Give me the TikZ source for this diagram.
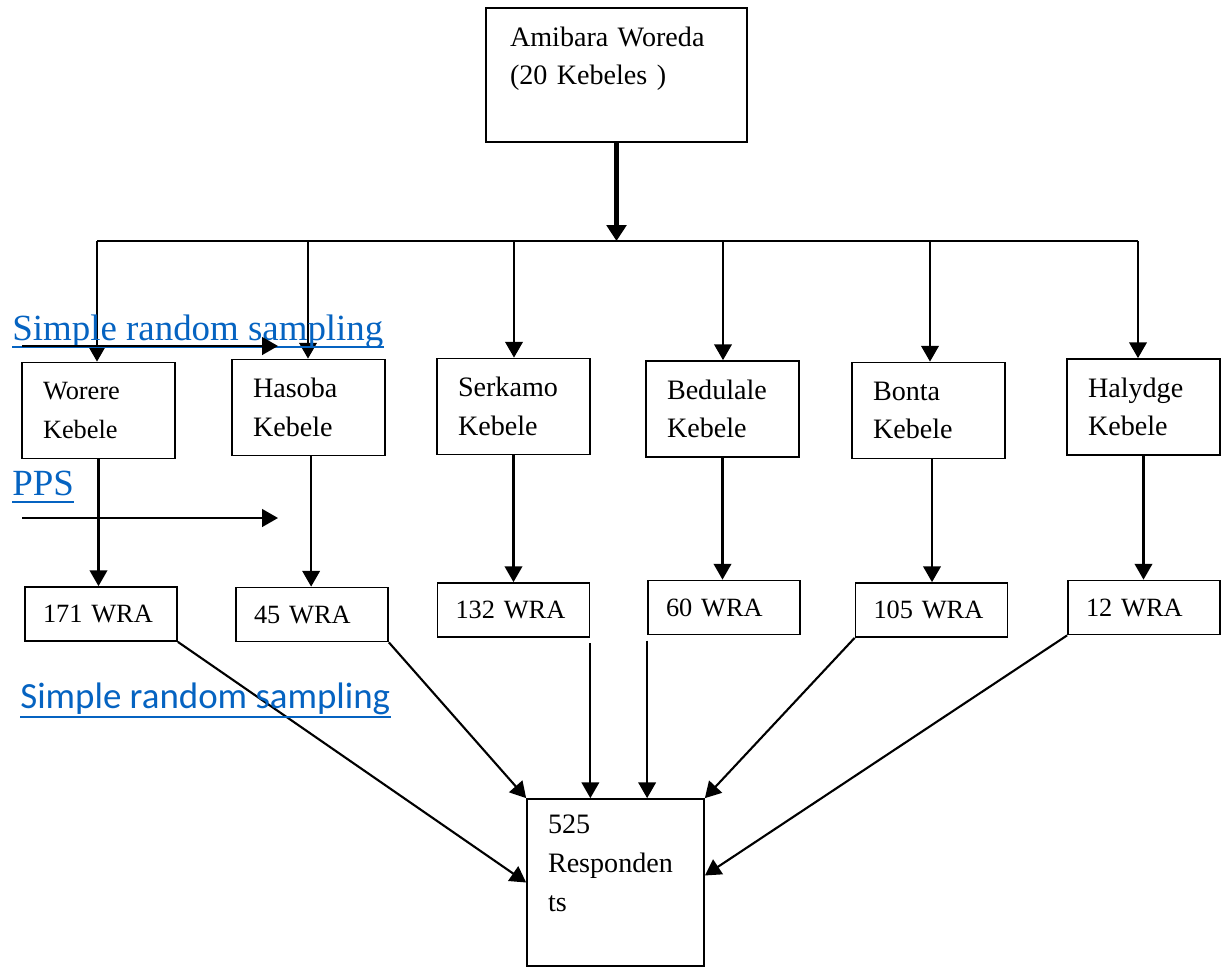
\documentclass[tikz,border=0pt]{standalone}
\usepackage{fontspec}
\setmainfont{Liberation Serif}
\newfontfamily\calibrifont{Carlito}
\usepackage{xcolor}
\usetikzlibrary{arrows.meta}
\definecolor{link-blue}{HTML}{0563C1}
\tikzset{
    plain-box/.style = {draw, line width=1pt, rectangle, align=left, font=\fontsize{16}{22}\selectfont},
    top-box/.style = {plain-box, text width=4.26cm, inner xsep=0.48cm, minimum height=2.68cm},
    kebele-box/.style = {plain-box, text width=2.22cm, inner xsep=0.42cm, minimum height=1.92cm},
    wra-box/.style = {plain-box, text width=2.32cm, inner xsep=0.36cm, minimum height=1.08cm, font=\fontsize{15}{20}\selectfont},
    resp-box/.style = {plain-box, text width=2.7cm, inner xsep=0.42cm, minimum height=3.34cm},
    link-text/.style = {text=link-blue, inner sep=0pt, anchor=base west, font=\fontsize{21}{25}\selectfont},
    link-line/.style = {draw=link-blue, line width=1.1pt},
    flow/.style = {line width=1.2pt, -{Triangle[length=9pt, width=10pt]}},
    bus/.style = {line width=1.2pt},
}

\begin{document}
\begin{tikzpicture}[x=0.02cm, y=-0.02cm]
\useasboundingbox (0,0) rectangle (1221,968);

\node[top-box] (woreda) at (616.5,75) {Amibara Woreda\\(20 Kebeles )\\\mbox{}};

\node[kebele-box, font=\fontsize{15}{22}\selectfont] (worere) at (98.5,410.5) {Worere\\Kebele};
\node[kebele-box] (hasoba) at (308.5,407.5) {Hasoba\\Kebele};
\node[kebele-box] (serkamo) at (513.5,406.5) {Serkamo\\Kebele};
\node[kebele-box] (bedulale) at (722.5,409) {Bedulale\\Kebele};
\node[kebele-box] (bonta) at (928.5,410.5) {Bonta\\Kebele};
\node[kebele-box] (halydge) at (1143.5,407) {Halydge\\Kebele};

\node[wra-box] (w171) at (101,614) {171 WRA};
\node[wra-box] (w45) at (312,614.5) {45 WRA};
\node[wra-box] (w132) at (513.5,610) {132 WRA};
\node[wra-box] (w60) at (724,607.5) {60 WRA};
\node[wra-box] (w105) at (931.5,610) {105 WRA};
\node[wra-box] (w12) at (1144,607.5) {12 WRA};

\node[resp-box] (resp) at (615.5,882.5) {525\\Responden\\ts\\\mbox{}};

\coordinate (bus-1) at (97,241);
\coordinate (bus-2) at (308,241);
\coordinate (bus-3) at (514,241);
\coordinate (bus-4) at (723,241);
\coordinate (bus-5) at (930,241);
\coordinate (bus-6) at (1138,241);

\draw[line width=2.8pt, -{Triangle[length=9pt, width=11pt]}] (woreda.south) -- (woreda.south |- bus-1);
\draw[bus] (bus-1) -- (bus-6);
\draw[flow] (bus-1) -- (bus-1 |- worere.north);
\draw[flow] (bus-2) -- (bus-2 |- hasoba.north);
\draw[flow] (bus-3) -- (bus-3 |- serkamo.north);
\draw[flow] (bus-4) -- (bus-4 |- bedulale.north);
\draw[flow] (bus-5) -- (bus-5 |- bonta.north);
\draw[flow] (bus-6) -- (bus-6 |- halydge.north);

\draw[flow] (worere.south) -- (worere.south |- w171.north);
\draw[flow] ([xshift=1.5pt]hasoba.south) -- ([xshift=1.5pt]hasoba.south |- w45.north);
\draw[flow] (serkamo.south) -- (serkamo.south |- w132.north);
\draw[flow] (bedulale.south) -- (bedulale.south |- w60.north);
\draw[flow] ([xshift=2pt]bonta.south) -- ([xshift=2pt]bonta.south |- w105.north);
\draw[flow] (halydge.south) -- (halydge.south |- w12.north);

\draw[flow] (w171.south east) -- (resp.west);
\draw[flow] (w45.south east) -- (resp.north west);
\draw[flow] ([yshift=-3pt]w132.south east) -- (w132.south east |- resp.north);
\draw[flow] ([yshift=-3pt]w60.south west) -- (w60.south west |- resp.north);
\draw[flow] (w105.south west) -- (resp.north east);
\draw[flow] (w12.south west) -- ([yshift=4pt]resp.east);

\node[link-text] (srs-top) at (12,340) {Simple random sampling};
\draw[link-line] ([yshift=-4.2pt]srs-top.base west) -- ([yshift=-4.2pt]srs-top.base east);
\node[link-text] (pps) at (12,495) {PPS};
\draw[link-line] ([yshift=-4.2pt]pps.base west) -- ([yshift=-4.2pt]pps.base east);
\node[link-text, font=\calibrifont\fontsize{21}{25}\selectfont] (srs-bottom) at (20,708) {Simple random sampling};
\draw[link-line] ([yshift=-5pt]srs-bottom.base west) -- ([yshift=-5pt]srs-bottom.base east);

\coordinate (srs-start) at (22,346);
\coordinate (srs-end) at (278,346);
\coordinate (pps-start) at (22,518);
\coordinate (pps-end) at (278,518);
\draw[flow] (srs-start) -- (srs-end);
\draw[flow] (pps-start) -- (pps-end);
\end{tikzpicture}
\end{document}
